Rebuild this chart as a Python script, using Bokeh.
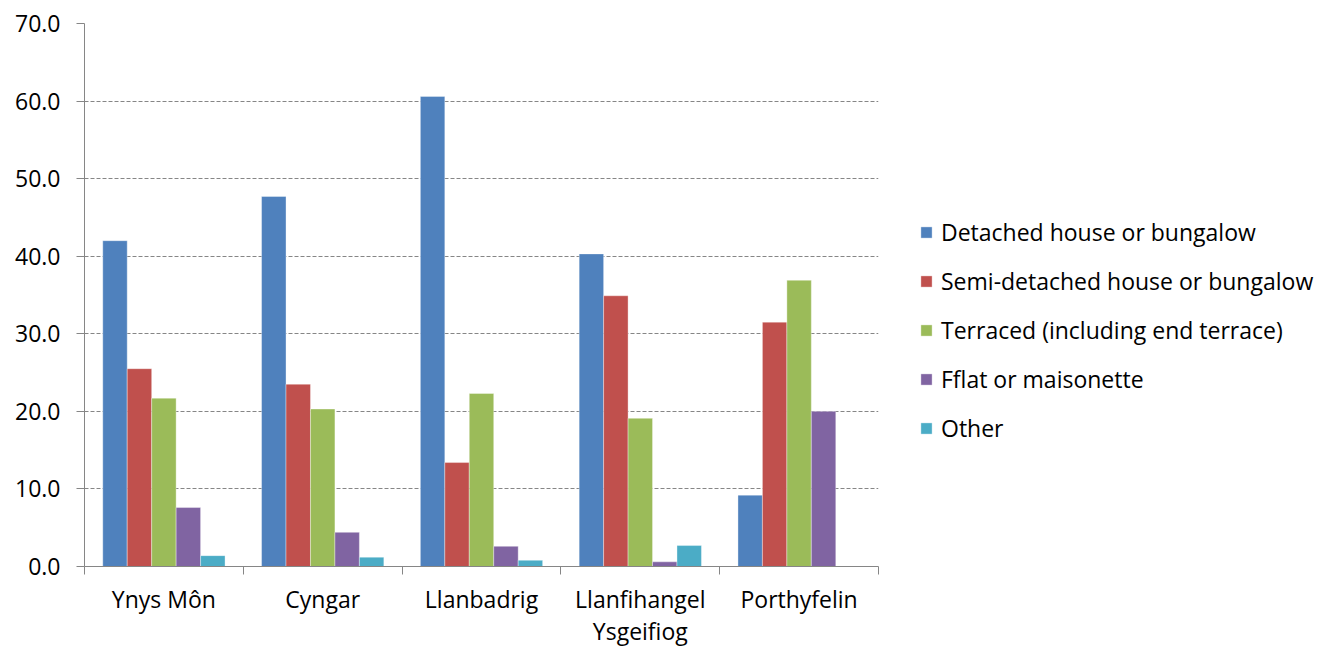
from bokeh.plotting import figure
from bokeh.models import (ColumnDataSource, Range1d, LinearAxis,
                          FixedTicker, Legend, LegendItem, NumeralTickFormatter)
from bokeh.transform import dodge
from bokeh.embed import file_html
from bokeh.resources import INLINE

# ---- data ----
areas = ["Ynys Môn", "Cyngar", "Llanbadrig", "Llanfihangel\nYsgeifiog", "Porthyfelin"]
series_names = ["Detached house or bungalow", "Semi-detached house or bungalow",
                "Terraced (including end terrace)", "Fflat or maisonette", "Other"]
detached = [42.0, 47.7, 60.6, 40.3, 9.2]
semi = [25.5, 23.5, 13.4, 34.9, 31.5]
terraced = [21.7, 20.3, 22.3, 19.1, 36.9]
flat = [7.6, 4.4, 2.6, 0.6, 20.0]
other = [1.4, 1.2, 0.8, 2.7, 0.0]
y_ticks = [0, 10, 20, 30, 40, 50, 60, 70]

colors = ["#4F81BD", "#C0504D", "#9BBB59", "#8064A2", "#4BACC6"]
FONT = "Open Sans"
FS = "23px"
GRID = "#868686"

n = len(areas)
idx = list(range(n))
src = ColumnDataSource(dict(idx=idx, detached=detached, semi=semi,
                            terraced=terraced, flat=flat, other=other))
keys = ["detached", "semi", "terraced", "flat", "other"]

p = figure(x_range=Range1d(0, n), y_range=Range1d(0, 70),
           frame_width=794, frame_height=543,
           min_border_left=84, min_border_top=23, min_border_right=4, min_border_bottom=2,
           output_backend="svg", toolbar_location=None, x_axis_location=None)
p.outline_line_color = None
p.background_fill_color = "white"

bw = 0.154
offsets = [-2 * bw, -bw, 0, bw, 2 * bw]
items = []
for k, off, c, name in zip(keys, offsets, colors, series_names):
    r = p.vbar(x=dodge("idx", 0.5 + off), top=k, width=bw, source=src,
               fill_color=c, line_color="white", line_width=0.6, line_alpha=0.6)
    items.append(LegendItem(label=name, renderers=[r]))

# y axis
ya = p.yaxis[0]
ya.ticker = FixedTicker(ticks=y_ticks)
ya.formatter = NumeralTickFormatter(format="0.0")
ya.axis_line_color = GRID
ya.major_tick_line_color = GRID
ya.major_tick_out = 8
ya.major_tick_in = 0
ya.minor_tick_line_color = None
ya.major_label_standoff = 16
ya.major_label_text_font = FONT
ya.major_label_text_font_size = FS
ya.major_label_text_color = "black"

p.ygrid.ticker = FixedTicker(ticks=y_ticks[1:])
p.ygrid.grid_line_color = GRID
p.ygrid.grid_line_dash = "4 2"
p.xgrid.grid_line_color = None

# category axis: labels at centres, minor tick marks at category boundaries
centers = [i + 0.5 for i in idx]
bounds = list(range(n + 1))
ca = LinearAxis(ticker=FixedTicker(ticks=centers, minor_ticks=bounds),
                major_label_overrides={c: a for c, a in zip(centers, areas)})
ca.axis_line_color = GRID
ca.major_tick_line_color = None
ca.major_tick_out = 0
ca.major_tick_in = 0
ca.minor_tick_line_color = GRID
ca.minor_tick_out = 8
ca.minor_tick_in = 0
ca.major_label_standoff = 8
ca.major_label_text_font = FONT
ca.major_label_text_font_size = FS
ca.major_label_text_color = "black"
ca.major_label_text_line_height = 1.03
p.add_layout(ca, "below")

legend = Legend(items=items, location=(41, 122), orientation="vertical",
                border_line_color=None, background_fill_alpha=0,
                glyph_width=14, glyph_height=14, label_standoff=8,
                label_text_font=FONT, label_text_font_size=FS,
                label_text_color="black", spacing=17, padding=0, margin=0,
                label_height=31)
p.add_layout(legend, "right")

open("out.html", "w").write(file_html(p, INLINE))
